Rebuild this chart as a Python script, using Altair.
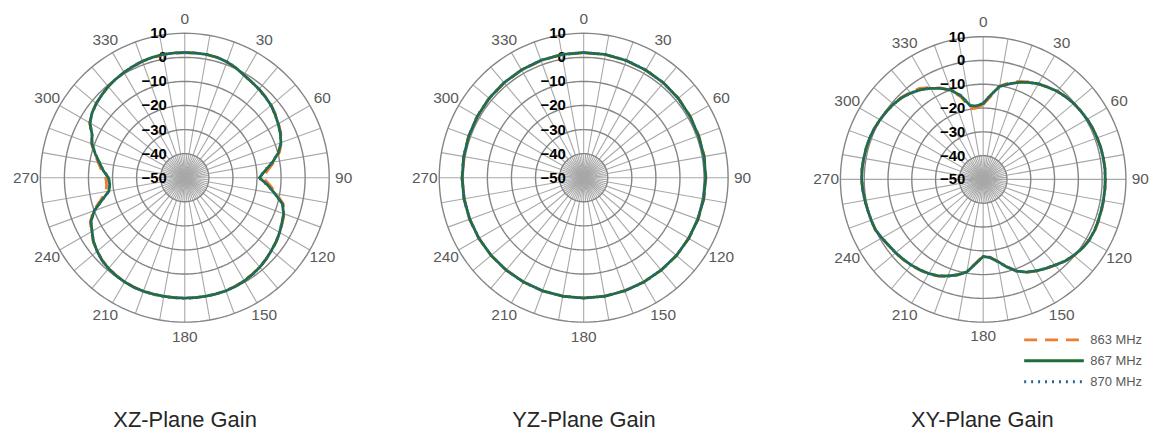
import altair as alt
import pandas as pd

FONT = "Liberation Sans"
FREQS = ["863 MHz", "867 MHz", "870 MHz"]
COLORS = ["#ED7D31", "#1E6E36", "#2A6496"]
DASHES = [[13, 8], [1, 0], [2, 5]]

ANGLES_5 = list(range(0, 360, 5))
ANGLES_10 = list(range(0, 360, 10))

# ---- XZ plane (5 degree steps) ----
xz_863 = [2, 2, 1.9, 1.7, 1.1, 0.3,
          -0.7, -1.4, -2, -2.5, -3.1, -4,
          -5, -6, -7.3, -9.3, -12.3, -15.5,
          -17.5, -14.5, -11.3, -7.6, -6, -5.3,
          -4.4, -3.6, -3, -2.2, -1.6, -1.1,
          -0.6, -0.3, -0.1, 0, 0, 0,
          0, 0, 0, 0.1, 0.1, 0.1,
          -0.1, -0.4, -0.9, -1.5, -2.6, -3.6,
          -5.3, -6.7, -9.6, -13.8, -16.8, -17.4,
          -17.2, -15.3, -13.5, -11.2, -8.8, -7.3,
          -4.4, -3, -2, -1.3, -0.5, 0,
          0.5, 1, 1.4, 1.7, 1.9, 2]
xz_867 = [2, 2, 2, 1.8, 1.2, 0.3,
          -0.8, -1.5, -2, -2.6, -3.2, -4.2,
          -5.2, -6.2, -7.5, -9.7, -13, -16.5,
          -19, -15.5, -12, -8, -6.3, -5.5,
          -4.5, -3.7, -3, -2.2, -1.5, -1,
          -0.5, -0.2, 0, 0, 0, 0,
          0, 0, 0, 0.1, 0.2, 0.2,
          0, -0.3, -0.8, -1.4, -2.5, -3.7,
          -5.5, -7, -10, -14.5, -18, -18.7,
          -18.3, -16, -14, -11.5, -9, -7.5,
          -4.5, -3, -2, -1.3, -0.5, 0,
          0.5, 1, 1.5, 1.8, 2, 2]
xz_870 = [2, 2, 2, 1.8, 1.3, 0.4,
          -0.8, -1.5, -2.1, -2.6, -3.3, -4.2,
          -5.2, -6.2, -7.5, -9.8, -13.2, -16.7,
          -19.2, -15.6, -12, -8, -6.3, -5.5,
          -4.5, -3.7, -3, -2.2, -1.5, -1,
          -0.5, -0.2, 0, 0, 0, 0.1,
          0.1, 0.1, 0.1, 0.2, 0.2, 0.2,
          0, -0.3, -0.8, -1.4, -2.5, -3.7,
          -5.5, -7, -10.1, -14.6, -18.1, -18.8,
          -18.4, -16.1, -14, -11.5, -9, -7.5,
          -4.5, -3, -2, -1.3, -0.5, 0,
          0.5, 1, 1.5, 1.8, 2, 2]

# ---- YZ plane (10 degree steps) ----
yz_863 = [1.9, 1.9, 1.8, 1.6, 1.5, 1.4,
          1.1, 0.9, 0.9, 0.8, 0.7, 0.6,
          0.4, 0.3, 0.1, 0, -0.1, -0.1,
          -0.1, -0.1, 0, 0, 0.1, 0.2,
          0.3, 0.4, 0.5, 0.5, 0.6, 0.8,
          1, 1.2, 1.4, 1.6, 1.8, 1.9]
yz_867 = [2, 2, 1.8, 1.6, 1.5, 1.3,
          1, 0.8, 0.8, 0.7, 0.6, 0.5,
          0.4, 0.3, 0.1, 0, 0, 0,
          0, 0, 0, 0, 0.1, 0.2,
          0.3, 0.4, 0.5, 0.5, 0.6, 0.8,
          1, 1.3, 1.5, 1.7, 1.9, 2]
yz_870 = [2, 2, 1.9, 1.7, 1.5, 1.3,
          1, 0.8, 0.7, 0.7, 0.6, 0.5,
          0.4, 0.3, 0.1, 0.1, 0, 0,
          0, 0, 0, 0.1, 0.1, 0.2,
          0.3, 0.4, 0.5, 0.6, 0.7, 0.8,
          1.1, 1.3, 1.5, 1.7, 1.9, 2]

# ---- XY plane (5 degree steps) ----
xy_863 = [-18.5, -15, -10.2, -8, -6.2, -4.8,
          -3.7, -2.6, -1.6, -0.9, -0.3, 0.1,
          0.5, 0.8, 1, 1.2, 1.3, 1.4,
          1.4, 1.4, 1.4, 1.5, 1.6, 1.7,
          1.4, 0.8, -0.2, -1.3, -2.9, -4.2,
          -5.5, -6.9, -9, -12, -15, -17.2,
          -17.8, -14.7, -10.6, -8.3, -6.5, -5.1,
          -4.1, -3.5, -2.9, -2.4, -1.9, -1.5,
          -0.7, 0, 0.1, 0.2, 0.5, 0.8,
          1.1, 1.1, 1, 0.9, 0.8, 0.5,
          0.1, -0.3, -0.7, -1.3, -2.3, -3.3,
          -5.4, -7.6, -10.2, -14.2, -19.8, -19.8]
xy_867 = [-18, -14.5, -10.3, -8.5, -6.6, -5,
          -3.6, -2.7, -1.6, -0.9, -0.3, 0.1,
          0.5, 0.8, 1, 1.2, 1.3, 1.4,
          1.3, 1.3, 1.3, 1.3, 1.4, 1.5,
          1.3, 0.7, -0.3, -1.4, -3, -4.3,
          -5.6, -7, -9, -12, -15, -17,
          -17.6, -14.5, -10.5, -8.5, -6.8, -5.3,
          -4.3, -3.6, -3, -2.5, -2, -1.6,
          -0.8, 0, 0.1, 0.2, 0.5, 0.8,
          1.1, 1.1, 1, 0.9, 0.8, 0.5,
          0.1, -0.3, -0.8, -1.5, -2.6, -4,
          -5.8, -7.8, -10, -13.5, -18.5, -19]
xy_870 = [-18, -14.4, -10.3, -8.5, -6.6, -5,
          -3.6, -2.7, -1.7, -0.9, -0.3, 0.1,
          0.5, 0.8, 1, 1.2, 1.3, 1.3,
          1.3, 1.3, 1.3, 1.3, 1.4, 1.5,
          1.3, 0.7, -0.3, -1.4, -3, -4.3,
          -5.6, -7, -9, -12, -15, -17,
          -17.6, -14.5, -10.5, -8.5, -6.8, -5.3,
          -4.3, -3.6, -3, -2.5, -2, -1.6,
          -0.8, 0, 0.1, 0.2, 0.5, 0.8,
          1.1, 1.1, 1, 0.9, 0.8, 0.5,
          0.1, -0.3, -0.8, -1.5, -2.6, -4,
          -5.8, -7.8, -10, -13.5, -18.5, -19]

RINGS = [-40, -30, -20, -10, 0, 10]
RADIAL_LABELS = [10, 0, -10, -20, -30, -40, -50]
MAJOR_SPOKES = list(range(0, 360, 10))
MINOR_SPOKES = list(range(5, 360, 10))
ANGLE_LABELS = list(range(0, 360, 30))
FLOOR = -50
TOP = 10
INNER = -40
LABEL_R = 66

rows = []
for plane, angles, series in [
    ("XZ", ANGLES_5, [xz_863, xz_867, xz_870]),
    ("YZ", ANGLES_10, [yz_863, yz_867, yz_870]),
    ("XY", ANGLES_5, [xy_863, xy_867, xy_870]),
]:
    for f, vals in zip(FREQS, series):
        for a, g in zip(angles, vals):
            rows.append({"plane": plane, "freq": f, "angle": a, "gain": g})
curve_df = pd.DataFrame(rows)

ring_df = pd.DataFrame({"ring": RINGS})
rlab_df = pd.DataFrame({"db": RADIAL_LABELS})
major_df = pd.DataFrame({"ang": MAJOR_SPOKES})
minor_df = pd.DataFrame({"ang": MINOR_SPOKES})
alab_df = pd.DataFrame({"ang": ANGLE_LABELS})

legend = alt.Legend(
    title=None, orient="none", legendX=1020, legendY=322,
    symbolType="stroke", symbolSize=3600, symbolStrokeWidth=3,
    labelFontSize=13, labelFont=FONT, labelColor="#595959",
    clipHeight=21, rowPadding=0, labelOffset=5, padding=0,
)

SIN = "sin(datum.{a} * PI / 180)"
COS = "cos(datum.{a} * PI / 180)"


def panel(plane, title, xdom, ydom, w, h, tdx):
    def X(f):
        return alt.X(f"{f}:Q", scale=alt.Scale(domain=xdom, nice=False, zero=False), axis=None)

    def Y(f):
        return alt.Y(f"{f}:Q", scale=alt.Scale(domain=ydom, nice=False, zero=False), axis=None)

    major = alt.Chart(major_df).transform_calculate(
        x0="0", y0="0",
        x1=f"{TOP - FLOOR} * " + SIN.format(a="ang"),
        y1=f"{TOP - FLOOR} * " + COS.format(a="ang"),
    ).mark_rule(stroke="#a8a8a8", strokeWidth=1.1).encode(
        x=X("x0"), y=Y("y0"), x2="x1:Q", y2="y1:Q")

    minor = alt.Chart(minor_df).transform_calculate(
        x0="0", y0="0",
        x1=f"{INNER - FLOOR} * " + SIN.format(a="ang"),
        y1=f"{INNER - FLOOR} * " + COS.format(a="ang"),
    ).mark_rule(stroke="#a8a8a8", strokeWidth=1.1).encode(
        x=X("x0"), y=Y("y0"), x2="x1:Q", y2="y1:Q")

    rings = alt.Chart(ring_df).transform_calculate(
        a="sequence(0, 362, 2)"
    ).transform_flatten(["a"]).transform_calculate(
        x=f"(datum.ring - ({FLOOR})) * " + SIN.format(a="a"),
        y=f"(datum.ring - ({FLOOR})) * " + COS.format(a="a"),
    ).mark_line(stroke="#858585", strokeWidth=1.4).encode(
        x=X("x"), y=Y("y"), detail="ring:N", order="a:Q")

    alabels = alt.Chart(alab_df).transform_calculate(
        x=f"{LABEL_R} * " + SIN.format(a="ang"),
        y=f"{LABEL_R} * " + COS.format(a="ang"),
    ).mark_text(fontSize=15.5, font=FONT, color="#595959", baseline="middle").encode(
        x=X("x"), y=Y("y"), text="ang:Q")

    rlabels = alt.Chart(rlab_df).transform_calculate(
        x="0", y=f"datum.db - ({FLOOR})",
    ).mark_text(fontSize=15, font=FONT, fontWeight="bold", color="#000000",
                align="right", baseline="middle", dx=-18).encode(
        x=X("x"), y=Y("y"), text="db:Q")

    curves = []
    for f in FREQS:
        curves.append(
            alt.Chart(curve_df).transform_filter(
                f"datum.plane == '{plane}' && datum.freq == '{f}'"
            ).transform_calculate(
                x=f"(datum.gain - ({FLOOR})) * " + SIN.format(a="angle"),
                y=f"(datum.gain - ({FLOOR})) * " + COS.format(a="angle"),
            ).mark_line(strokeWidth=2.8, interpolate="linear-closed").encode(
                x=X("x"), y=Y("y"),
                color=alt.Color("freq:N", scale=alt.Scale(domain=FREQS, range=COLORS), legend=legend),
                strokeDash=alt.StrokeDash("freq:N", scale=alt.Scale(domain=FREQS, range=DASHES), legend=legend),
                order="angle:Q",
            )
        )

    return alt.layer(major, minor, rings, alabels, rlabels, *curves).properties(
        width=w, height=h,
        title=alt.TitleParams(text=title, orient="bottom", anchor="middle", fontSize=22,
                              font=FONT, fontWeight="normal", color="#262626",
                              offset=75, baseline="alphabetic", dx=tdx),
    )


k12 = 145.2 / 60.0
k3 = 143.5 / 60.0
p1 = panel("XZ", "XZ-Plane Gain", [-177.7 / k12, (356 - 177.7) / k12],
           [-(345 - 169.5) / k12, 169.5 / k12], 356, 345, 0)
p2 = panel("YZ", "YZ-Plane Gain", [-177.7 / k12, (356 - 177.7) / k12],
           [-(345 - 169.5) / k12, 169.5 / k12], 356, 345, 0)
p3 = panel("XY", "XY-Plane Gain", [-178.3 / k3, (339 - 178.3) / k3],
           [-(345 - 171.2) / k3, 171.2 / k3], 339, 345, 8)

chart = alt.hconcat(p1, p2, p3, spacing=45).resolve_scale(
    x="independent", y="independent"
).properties(padding=0).configure_view(stroke=None)

chart.save("out.html", embed_options={"renderer": "svg", "actions": False})
